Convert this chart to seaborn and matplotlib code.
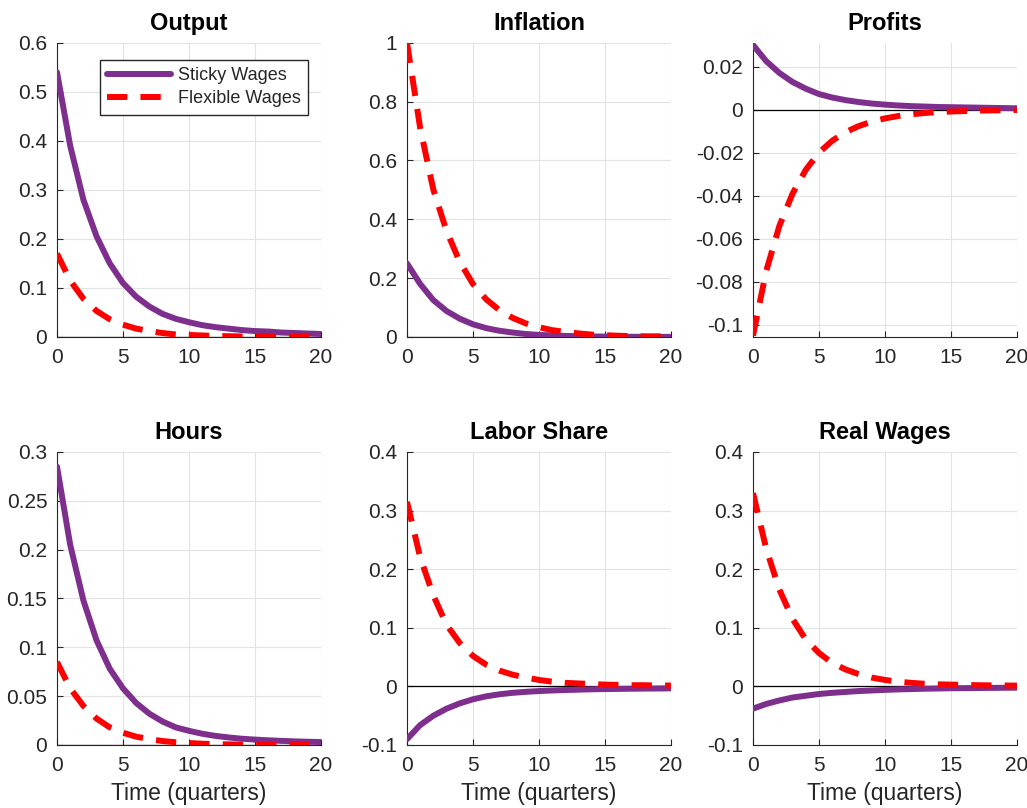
import seaborn as sns
import matplotlib.pyplot as plt
import pandas as pd
from matplotlib.ticker import FuncFormatter

# impulse responses (quarters 0..20)
quarters = list(range(21))

output_sticky = [0.54, 0.39, 0.28, 0.205, 0.15, 0.11, 0.082, 0.062, 0.047, 0.037, 0.03,
                 0.024, 0.02, 0.017, 0.014, 0.012, 0.011, 0.009, 0.008, 0.007, 0.006]
output_flex = [0.17, 0.115, 0.078, 0.053, 0.036, 0.025, 0.017, 0.012, 0.008, 0.005, 0.004,
               0.003, 0.002, 0.0015, 0.001, 0.0007, 0.0005, 0.0004, 0.0003, 0.0002, 0.0002]

inflation_sticky = [0.25, 0.18, 0.125, 0.088, 0.062, 0.043, 0.03, 0.021, 0.015, 0.01, 0.007,
                    0.005, 0.0035, 0.0025, 0.0017, 0.0012, 0.0008, 0.0006, 0.0004, 0.0003, 0.0002]
inflation_flex = [1.0, 0.71, 0.5, 0.36, 0.255, 0.18, 0.128, 0.091, 0.065, 0.046, 0.033,
                  0.023, 0.017, 0.012, 0.008, 0.006, 0.004, 0.003, 0.002, 0.002, 0.001]

profits_sticky = [0.030, 0.0225, 0.017, 0.0128, 0.0097, 0.0072, 0.0056, 0.0044, 0.0035, 0.0028, 0.0023,
                  0.0019, 0.0016, 0.0014, 0.0012, 0.0011, 0.001, 0.0009, 0.0008, 0.0007, 0.0006]
profits_flex = [-0.105, -0.075, -0.054, -0.039, -0.028, -0.020, -0.0145, -0.0105, -0.0077, -0.0056, -0.0041,
                -0.003, -0.0022, -0.0016, -0.0012, -0.0009, -0.0007, -0.0005, -0.0004, -0.0003, -0.0002]

hours_sticky = [0.285, 0.205, 0.148, 0.107, 0.078, 0.058, 0.043, 0.032, 0.024, 0.018, 0.0145,
                0.0115, 0.0093, 0.0077, 0.0064, 0.0055, 0.0048, 0.0042, 0.0037, 0.0033, 0.003]
hours_flex = [0.085, 0.058, 0.04, 0.027, 0.018, 0.0125, 0.0085, 0.006, 0.004, 0.0028, 0.002,
              0.0013, 0.0009, 0.0006, 0.0004, 0.0003, 0.0002, 0.0002, 0.0001, 0.0001, 0.0001]

labor_sticky = [-0.09, -0.066, -0.05, -0.038, -0.029, -0.022, -0.017, -0.0135, -0.011, -0.0093, -0.008,
                -0.007, -0.0062, -0.0056, -0.005, -0.0046, -0.0043, -0.004, -0.0038, -0.0036, -0.0034]
labor_flex = [0.315, 0.22, 0.155, 0.105, 0.074, 0.052, 0.037, 0.027, 0.02, 0.015, 0.011,
              0.008, 0.006, 0.005, 0.004, 0.003, 0.0025, 0.002, 0.002, 0.0015, 0.0015]

wages_sticky = [-0.038, -0.03, -0.024, -0.019, -0.016, -0.013, -0.011, -0.0095, -0.008, -0.007, -0.006,
                -0.0052, -0.0046, -0.004, -0.0036, -0.0032, -0.003, -0.0028, -0.0026, -0.0024, -0.0022]
wages_flex = [0.33, 0.235, 0.165, 0.115, 0.08, 0.057, 0.04, 0.029, 0.021, 0.015, 0.011,
              0.008, 0.006, 0.0045, 0.0035, 0.003, 0.0025, 0.002, 0.0017, 0.0015, 0.0013]

titles = ['Output', 'Inflation', 'Profits', 'Hours', 'Labor Share', 'Real Wages']
sticky = [output_sticky, inflation_sticky, profits_sticky, hours_sticky, labor_sticky, wages_sticky]
flexible = [output_flex, inflation_flex, profits_flex, hours_flex, labor_flex, wages_flex]
ylims = [(0, 0.6), (0, 1), (-0.1056, 0.031), (0, 0.3), (-0.1, 0.4), (-0.1, 0.4)]
yticks = [[0, 0.1, 0.2, 0.3, 0.4, 0.5, 0.6],
          [0, 0.2, 0.4, 0.6, 0.8, 1],
          [-0.1, -0.08, -0.06, -0.04, -0.02, 0, 0.02],
          [0, 0.05, 0.1, 0.15, 0.2, 0.25, 0.3],
          [-0.1, 0, 0.1, 0.2, 0.3, 0.4],
          [-0.1, 0, 0.1, 0.2, 0.3, 0.4]]

sns.set_theme(style='whitegrid')
plt.rcParams['font.family'] = ['Liberation Sans', 'DejaVu Sans']
plt.rcParams['axes.edgecolor'] = '#262626'

fig = plt.figure(figsize=(10.27, 8.08), dpi=100)

# axes boxes (fig fractions), MATLAB-like subplot layout
lefts = [0.0555, 0.3963, 0.7332]
bottoms = [0.583, 0.078]
heights = [0.364, 0.3626]
width = 0.257

palette = {'Sticky Wages': '#7E2F8E', 'Flexible Wages': '#FF0000'}
dashes = {'Sticky Wages': '', 'Flexible Wages': (3.4, 2.2)}

fmt = FuncFormatter(lambda v, p: f"{round(v, 6) + 0.0:g}")

for i in range(6):
    r, c = divmod(i, 3)
    ax = fig.add_axes([lefts[c], bottoms[r], width, heights[r]])
    df = pd.DataFrame({
        'quarter': quarters * 2,
        'value': sticky[i] + flexible[i],
        'type': ['Sticky Wages'] * 21 + ['Flexible Wages'] * 21,
    })
    ax.axhline(0, color='black', lw=0.9, zorder=1)
    sns.lineplot(data=df, x='quarter', y='value', hue='type', style='type',
                 palette=palette, dashes=dashes, linewidth=4.3, ax=ax,
                 legend=(i == 0), zorder=3)
    ax.set_xlim(0, 20)
    ax.set_ylim(*ylims[i])
    ax.set_xticks([0, 5, 10, 15, 20])
    ax.set_yticks(yticks[i])
    ax.yaxis.set_major_formatter(fmt)
    ax.set_title(titles[i], fontsize=17, fontweight='bold', color='black', pad=9)
    ax.set_ylabel('')
    if r == 1:
        ax.set_xlabel('Time (quarters)', fontsize=16.5, color='#262626', labelpad=5)
    else:
        ax.set_xlabel('')
    ax.tick_params(labelsize=15, colors='#262626', direction='in', length=4, width=0.8,
                   left=True, bottom=True)
    ax.tick_params(axis='x', pad=8)
    ax.tick_params(axis='y', pad=7)
    ax.grid(True, color='#e3e3e3', lw=0.8)
    ax.set_facecolor('white')
    for s in ['top', 'right']:
        ax.spines[s].set_visible(False)
    for s in ['left', 'bottom']:
        ax.spines[s].set_color('#262626')
        ax.spines[s].set_linewidth(0.8)
    if i == 0:
        h, l = ax.get_legend_handles_labels()
        ax.legend(h, l, loc='upper right', bbox_to_anchor=(0.951, 0.942), borderaxespad=0,
                  fontsize=13, frameon=True, fancybox=False, edgecolor='#262626',
                  framealpha=1, handlelength=3.5, borderpad=0.4, labelspacing=0.35,
                  handletextpad=0.4)

plt.savefig('out.png', dpi=100)
